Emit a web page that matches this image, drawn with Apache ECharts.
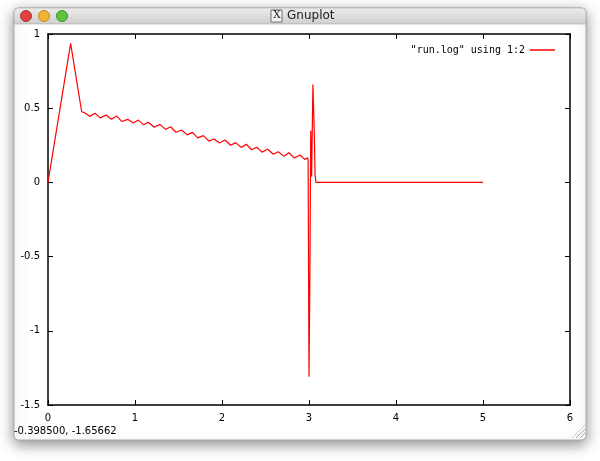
<!DOCTYPE html>
<html>
<head>
<meta charset="utf-8">
<script src="https://cdn.jsdelivr.net/npm/echarts@6/dist/echarts.min.js"></script>
<style>
  html, body { margin: 0; padding: 0; background: #fff; }
  #main { width: 600px; height: 461px; }
</style>
</head>
<body>
<div id="main"></div>
<script>
// data ("run.log" using 1:2)
var xs = [0, 0.26, 0.387, 0.42, 0.48, 0.54, 0.60, 0.667, 0.73, 0.79, 0.85, 0.916, 0.98, 1.04,
  1.10, 1.153, 1.22, 1.287, 1.35, 1.41, 1.47, 1.536, 1.60, 1.66, 1.72, 1.785, 1.85, 1.908,
  1.97, 2.034, 2.10, 2.157, 2.22, 2.28, 2.34, 2.40, 2.46, 2.525, 2.59, 2.647, 2.71, 2.77,
  2.83, 2.897, 2.95, 2.985, 2.99, 3.0, 3.01, 3.02, 3.03, 3.045, 3.06, 3.07, 3.08, 3.08, 5];
var ys = [0, 0.937, 0.476, 0.47, 0.445, 0.466, 0.435, 0.454, 0.425, 0.447, 0.41, 0.425, 0.4, 0.42,
  0.388, 0.405, 0.372, 0.391, 0.357, 0.375, 0.338, 0.353, 0.32, 0.337, 0.3, 0.315, 0.278, 0.292,
  0.265, 0.286, 0.25, 0.268, 0.236, 0.257, 0.22, 0.237, 0.204, 0.223, 0.19, 0.207, 0.177, 0.2,
  0.165, 0.185, 0.155, 0.165, 0.15, -1.31, -0.65, 0.35, 0.04, 0.66, 0.35, 0.05, 0.05, 0, 0];
var seriesName = '"run.log" using 1:2';
var statusText = '-0.398500, -1.65662';

var points = xs.map(function (x, i) { return [x, ys[i]] })

var myChart = echarts.init(document.getElementById('main'));

var tickFont = { color: '#000', fontSize: 10, fontFamily: 'DejaVu Sans' };
var axisLine = { show: true, onZero: false, lineStyle: { color: '#000', width: 1.5 } };
var axisTick = { show: true, inside: true, length: 5, lineStyle: { color: '#000', width: 1 } };

var option = {
    animation: false,
    backgroundColor: '#fff',
    grid: { left: 48, right: 30, top: 34, bottom: 56 },
    legend: {
        data: [{ name: seriesName, icon: 'rect' }],
        right: 40, top: 40,
        align: 'right',
        itemWidth: 25, itemHeight: 1.5, itemGap: 5,
        textStyle: { color: '#000', fontSize: 10, fontFamily: 'DejaVu Sans Mono' }
    },
    xAxis: [
        {
            type: 'value', min: 0, max: 6, interval: 1, position: 'bottom',
            axisLine: axisLine, axisTick: axisTick,
            axisLabel: Object.assign({ margin: 8 }, tickFont),
            splitLine: { show: false }
        },
        {
            type: 'value', min: 0, max: 6, interval: 1, position: 'top',
            axisLine: axisLine, axisTick: axisTick,
            axisLabel: { show: false }, splitLine: { show: false }
        }
    ],
    yAxis: [
        {
            type: 'value', min: -1.5, max: 1, interval: 0.5, position: 'left',
            axisLine: axisLine, axisTick: axisTick,
            axisLabel: Object.assign({ margin: 8 }, tickFont),
            splitLine: { show: false }
        },
        {
            type: 'value', min: -1.5, max: 1, interval: 0.5, position: 'right',
            axisLine: axisLine, axisTick: axisTick,
            axisLabel: { show: false }, splitLine: { show: false }
        }
    ],
    series: [
        {
            name: seriesName,
            type: 'line',
            data: points,
            showSymbol: false,
            symbol: 'none',
            itemStyle: { color: '#ff0000' },
            lineStyle: { color: '#ff0000', width: 1.2 }
        }
    ],
    // the mac window around the plot
    graphic: [
        {
            type: 'rect', z: -20,
            shape: { x: 14, y: 8, width: 572, height: 432, r: 4 },
            style: { fill: '#fff', stroke: '#a8a8a8', lineWidth: 1, shadowBlur: 14, shadowColor: 'rgba(0,0,0,0.45)', shadowOffsetY: 4 }
        },
        {
            type: 'rect', z: -19,
            shape: { x: 14, y: 8, width: 572, height: 16, r: [4, 4, 0, 0] },
            style: {
                fill: new echarts.graphic.LinearGradient(0, 0, 0, 1, [
                    { offset: 0, color: '#ececec' }, { offset: 1, color: '#cfcfcf' }
                ]),
                stroke: '#9a9a9a', lineWidth: 0.5
            }
        },
        { type: 'circle', z: -18, shape: { cx: 26, cy: 16, r: 5.5 }, style: { fill: '#e0443e', stroke: '#b03030' } },
        { type: 'circle', z: -18, shape: { cx: 44, cy: 16, r: 5.5 }, style: { fill: '#f2b532', stroke: '#c08a20' } },
        { type: 'circle', z: -18, shape: { cx: 62, cy: 16, r: 5.5 }, style: { fill: '#5ec43f', stroke: '#3a9030' } },
        {
            type: 'rect', z: -18,
            shape: { x: 271, y: 10, width: 11, height: 12 },
            style: { fill: '#f4f4f4', stroke: '#555', lineWidth: 0.8 }
        },
        {
            type: 'text', z: -18, left: 273, top: 10,
            style: { text: 'X', fontSize: 11, fontFamily: 'DejaVu Serif', fill: '#222' }
        },
        {
            type: 'text', z: -18, left: 287, top: 10,
            style: { text: 'Gnuplot', fontSize: 12, fontFamily: 'Lucida Grande, DejaVu Sans', fill: '#222' }
        },
        {
            type: 'text', z: -18, left: 14, top: 426,
            style: { text: statusText, fontSize: 10, fontFamily: 'DejaVu Sans', fill: '#000' }
        },
        { type: 'line', z: -18, shape: { x1: 576, y1: 438, x2: 585, y2: 429 }, style: { stroke: '#aaa', lineWidth: 1 } },
        { type: 'line', z: -18, shape: { x1: 580, y1: 438, x2: 585, y2: 433 }, style: { stroke: '#aaa', lineWidth: 1 } },
        { type: 'line', z: -18, shape: { x1: 572, y1: 438, x2: 585, y2: 425 }, style: { stroke: '#ccc', lineWidth: 1 } }
    ]
};
myChart.setOption(option);
</script>
</body>
</html>
